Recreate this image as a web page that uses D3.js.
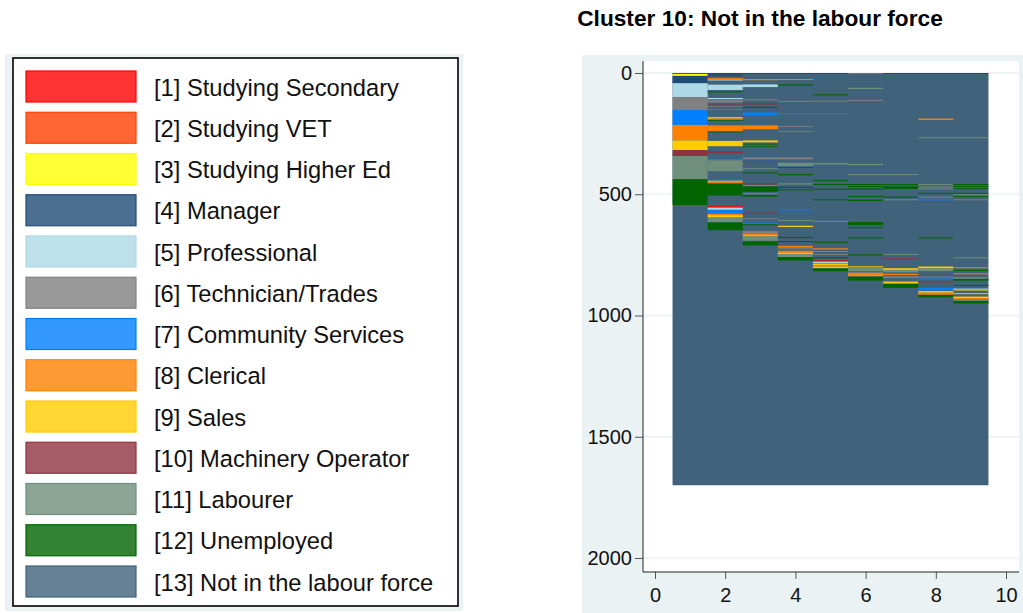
<!DOCTYPE html>
<html>
<head>
<meta charset="utf-8">
<script src="https://cdn.jsdelivr.net/npm/d3@7"></script>
<style>
  body { margin:0; background:#fff; }
  svg text { font-family: "Liberation Sans", Arial, sans-serif; }
</style>
</head>
<body>
<svg id="chart" width="1023" height="613"></svg>
<script>
// states (legend order)
var STATES = ["[1] Studying Secondary","[2] Studying VET","[3] Studying Higher Ed","[4] Manager",
  "[5] Professional","[6] Technician/Trades","[7] Community Services","[8] Clerical","[9] Sales",
  "[10] Machinery Operator","[11] Labourer","[12] Unemployed","[13] Not in the labour force"];
var STATECOLORS = ["#ff0000","#ff4000","#ffff00","#1e4a75","#add8e6","#808080","#0080ff",
  "#ff8000","#ffcc00","#903340","#6f8f7c","#006400","#40627a"];

var NSEQ = 1700;            // sequences in cluster
var TIMES = [1,2,3,4,5,6,7,8,9];
var XTICKS = [0,2,4,6,8,10];
var YTICKS = [0,500,1000,1500,2000];

// spells per time point: [first seq, last seq, state]; everything else is state 13
var col1 = [[0,4,1],[4,12,3],[12,42,4],[42,100,5],[100,153,6],[153,214,7],[214,278,8],
  [278,318,9],[318,342,10],[342,438,11],[438,544,12]];
var col2 = [[0,3,12],[6,13,4],[21,28,8],[28,31,5],[48,70,5],[76,80,12],[103,108,5],[112,122,6],
  [130,134,10],[137,140,6],[150,153,6],[182,188,9],[188,192,8],[194,197,12],[216,240,8],[242,245,12],
  [280,302,9],[323,330,10],[354,358,7],[358,361,6],[361,405,11],[440,444,7],[444,448,9],[448,454,8],
  [457,505,12],[548,552,1],[552,556,2],[556,564,5],[566,578,7],[580,586,8],[586,596,9],[596,616,11],
  [616,648,12]];
var col3 = [[0,3,12],[25,30,8],[47,58,5],[109,113,6],[124,130,10],[140,144,12],[163,175,7],
  [216,232,8],[278,286,9],[292,295,12],[302,305,12],[348,356,6],[356,360,7],[362,366,10],[393,397,11],
  [410,414,12],[455,460,10],[462,466,11],[468,490,12],[496,500,11],[504,510,12],[576,580,10],
  [599,603,6],[617,622,7],[624,628,12],[652,663,6],[663,669,8],[669,674,9],[674,692,11],[694,711,12]];
var col4 = [[0,3,12],[25,29,8],[47,52,12],[115,119,6],[165,169,7],[219,223,6],[239,242,11],
  [348,356,6],[370,384,11],[388,391,12],[417,422,12],[455,460,11],[470,474,12],[480,484,12],
  [562,566,7],[606,610,11],[630,635,9],[676,680,12],[693,697,12],[713,720,8],[723,727,6],
  [733,742,8],[742,747,9],[747,759,11],[759,773,12]];
var col5 = [[0,3,12],[88,92,12],[114,118,6],[165,169,7],[371,377,11],[441,445,12],[458,462,12],
  [477,481,12],[521,525,12],[610,614,11],[696,700,12],[723,728,8],[734,738,11],[746,750,6],
  [760,764,12],[773,778,1],[778,784,5],[786,792,9],[792,798,8],[798,805,9],[806,817,12]];
var col6 = [[0,3,6],[61,66,11],[111,115,6],[375,380,11],[417,421,11],[458,462,12],[466,470,12],
  [476,481,12],[507,511,12],[522,528,12],[615,628,12],[636,640,12],[678,682,12],[748,752,12],
  [797,801,9],[801,817,11],[819,823,7],[823,835,8],[835,838,9],[840,856,12]];
var col7 = [[0,3,12],[417,421,11],[458,462,12],[467,478,12],[510,514,12],[521,525,11],[746,750,11],
  [764,768,10],[805,812,9],[812,822,11],[828,833,8],[838,845,6],[860,868,9],[870,886,12]];
var col8 = [[0,3,12],[188,194,8],[265,269,11],[458,462,11],[468,472,11],[476,480,11],[494,498,12],
  [510,514,11],[521,525,7],[678,682,12],[798,806,9],[806,817,11],[840,844,6],[848,852,7],
  [860,864,10],[886,896,7],[899,906,9],[906,914,8],[916,925,12]];
var col9 = [[0,3,12],[265,269,11],[458,462,12],[466,470,12],[475,479,12],[494,498,12],[500,504,11],
  [508,512,12],[521,525,6],[760,764,11],[801,805,8],[812,816,12],[826,830,8],[842,849,11],
  [849,856,12],[874,878,12],[889,893,5],[893,897,9],[908,912,9],[922,928,9],[928,934,8],
  [934,940,11],[940,950,12]];
var SPELLS = [col1,col2,col3,col4,col5,col6,col7,col8,col9];

var BG = "#eaf2f3";
var svg = d3.select("#chart");

//---------------- legend panel
svg.append("rect").attr("x",5).attr("y",54).attr("width",458).attr("height",557).attr("fill",BG);
svg.append("rect").attr("x",13).attr("y",58).attr("width",445).attr("height",548)
   .attr("fill","#fff").attr("stroke","#000").attr("stroke-width",1.6);

var ly = d3.scalePoint().domain(d3.range(STATES.length)).range([86.5,581.5]);
var leg = svg.append("g").selectAll("g").data(STATES).join("g")
   .attr("transform",function(d,i){ return "translate(0," + ly(i) + ")"; });
leg.append("rect").attr("x",26).attr("y",-15.5).attr("width",110).attr("height",31)
   .attr("fill",function(d,i){ return STATECOLORS[i]; }).attr("fill-opacity",0.8)
   .attr("stroke",function(d,i){ return STATECOLORS[i]; }).attr("stroke-width",1.2);
leg.append("text").attr("x",154).attr("y",1).attr("dominant-baseline","central")
   .attr("font-size","23.7px").attr("fill","#111").text(function(d){ return d; });

//---------------- sequence index plot
var PL = 643, PR = 1019, PT = 61, PB = 572;
svg.append("rect").attr("x",582).attr("y",55).attr("width",441).attr("height",558).attr("fill",BG);
svg.append("rect").attr("x",PL).attr("y",PT).attr("width",PR-PL).attr("height",PB-PT).attr("fill","#fff");

var x = d3.scaleLinear().domain([0,10]).range([655,1006]);
var y = d3.scaleLinear().domain([0,2000]).range([73,558]);

// grid
svg.append("g").selectAll("line").data(YTICKS).join("line")
   .attr("x1",PL).attr("x2",PR).attr("y1",function(d){return y(d);}).attr("y2",function(d){return y(d);})
   .attr("stroke",BG).attr("stroke-width",1.3);

var plot = svg.append("g");
// all sequences start as state 13 over the whole time span
plot.append("rect").attr("x",x(TIMES[0]-0.5)).attr("width",x(TIMES[TIMES.length-1]+0.5)-x(TIMES[0]-0.5))
   .attr("y",y(0)).attr("height",y(NSEQ)-y(0)).attr("fill",STATECOLORS[12]);
TIMES.forEach(function(t,k){
  plot.append("g").selectAll("rect").data(SPELLS[k]).join("rect")
   .attr("x",x(t-0.5)).attr("width",x(t+0.5)-x(t-0.5))
   .attr("y",function(d){ return y(d[0]); })
   .attr("height",function(d){ return y(d[1]) - y(d[0]); })
   .attr("fill",function(d){ return STATECOLORS[d[2]-1]; });
});

// axes
var yAxis = svg.append("g").attr("transform","translate(" + PL + ",0)")
   .call(d3.axisLeft(y).tickValues(YTICKS).tickSize(8).tickPadding(3).tickFormat(d3.format("d")));
var xAxis = svg.append("g").attr("transform","translate(0," + PB + ")")
   .call(d3.axisBottom(x).tickValues(XTICKS).tickSize(7).tickPadding(9));
[yAxis,xAxis].forEach(function(a){
  a.select(".domain").remove();
  a.selectAll(".tick line").attr("stroke","#555");
  a.selectAll(".tick text").attr("font-size","20px").attr("fill","#111")
   .attr("font-family","Liberation Sans, Arial, sans-serif");
});
svg.append("line").attr("x1",PL).attr("x2",PL).attr("y1",PT).attr("y2",PB).attr("stroke","#222");
svg.append("line").attr("x1",PL).attr("x2",PR).attr("y1",PB).attr("y2",PB).attr("stroke","#222");

// title
svg.append("text").attr("x",760).attr("y",26).attr("text-anchor","middle")
   .attr("font-size","22.7px").attr("font-weight","bold").attr("fill","#000")
   .text("Cluster 10: Not in the labour force");
</script>
</body>
</html>
